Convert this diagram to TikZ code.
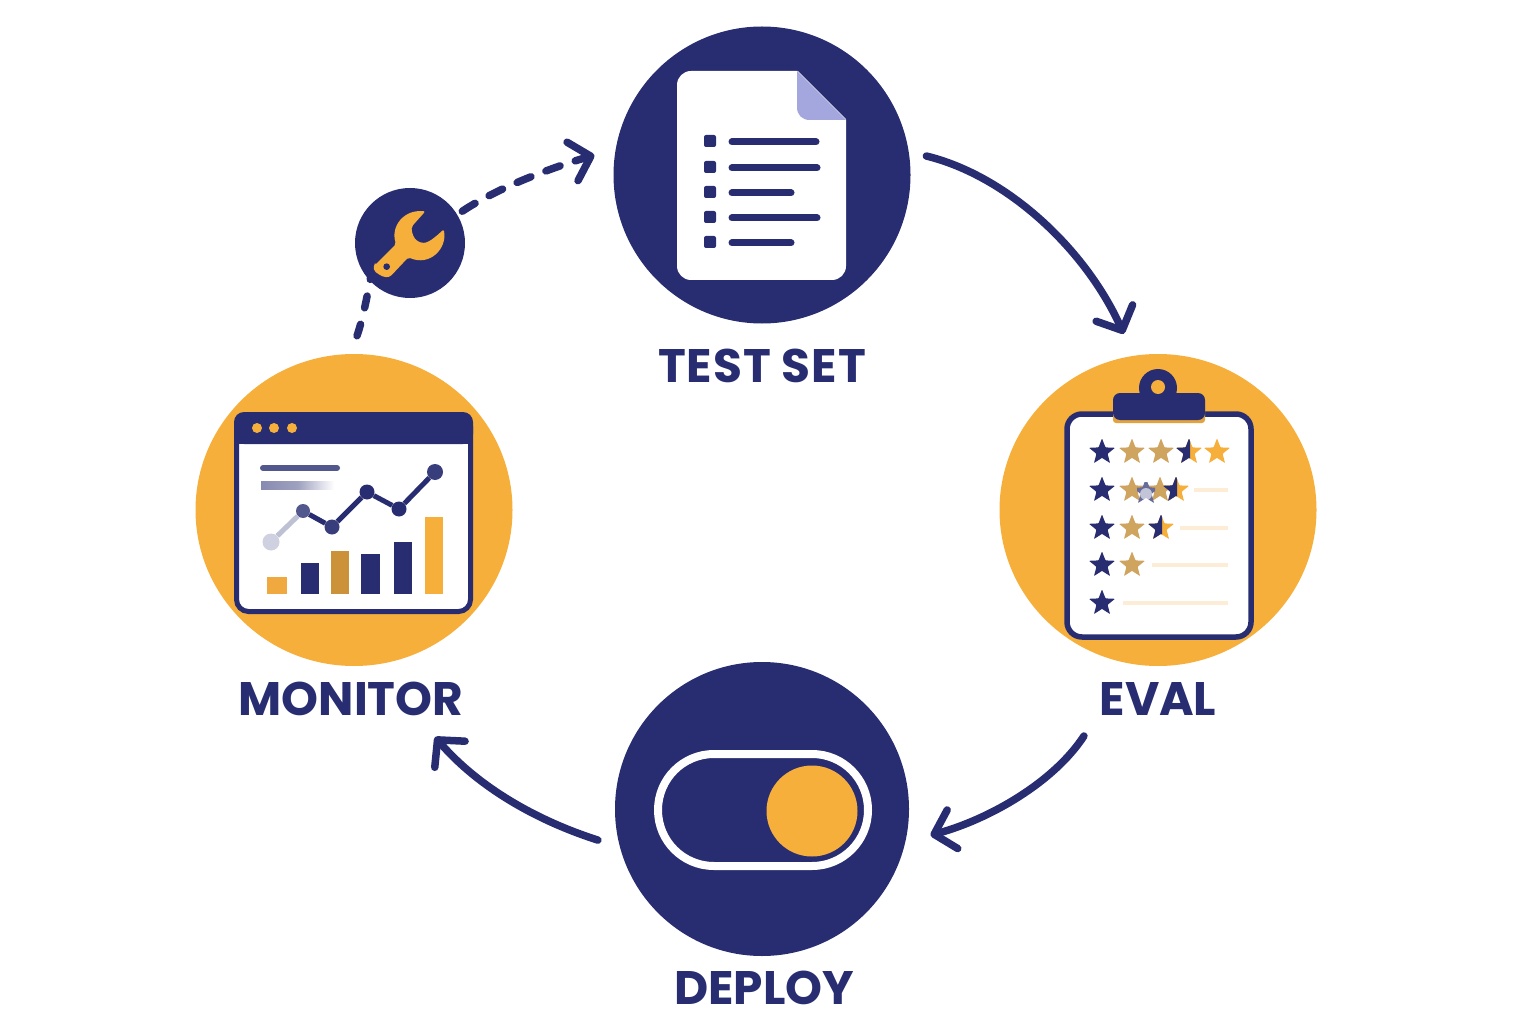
\documentclass[tikz,border=0pt]{standalone}
\usepackage{fontspec}
\setmainfont{Poppins}[BoldFont=* Bold]
\usetikzlibrary{arrows.meta,shapes.geometric}
\definecolor{navy}{HTML}{272D70}
\definecolor{amber}{HTML}{F7AF3B}
\definecolor{brownstar}{HTML}{CFA45F}
\definecolor{fold}{HTML}{A4A7DD}
\definecolor{softline}{HTML}{FDECD6}
\definecolor{barbrown}{HTML}{CC923A}
\definecolor{barlight}{HTML}{EFA93F}
\tikzset{
  big/.style={circle,inner sep=0pt,fill=navy,draw=none},
  bigo/.style={ellipse,inner sep=0pt,fill=amber,draw=none,minimum width=317pt,minimum height=312pt},
  lab/.style={text=navy,font=\fontsize{47}{47}\selectfont\bfseries,inner sep=0pt},
  flow/.style={draw=navy,line width=7.5pt,line cap=round,-{Straight Barb[length=19pt,width=40pt,round]}},
  dashflow/.style={draw=navy,line width=7.5pt,line cap=round,dash pattern=on 12pt off 17pt},
  dot/.style={circle,inner sep=0pt,fill=navy,minimum size=17pt},
  txtline/.style={line width=7pt,line cap=round,draw=navy},
  softl/.style={line width=4pt,draw=softline},
  pics/starshape/.style={code={
    \fill[#1,rounded corners=0.6pt] (0,-13.5)--(3.5,-4.6)--(13,-4.2)--(5.6,1.8)--(8,11)--(0,5.9)--(-8,11)--(-5.6,1.8)--(-13,-4.2)--(-3.5,-4.6)--cycle;}},
  pics/halfstar/.style={code={
    \pic {starshape=amber};
    \begin{scope}\clip (-14,-14) rectangle (1,14); \pic {starshape=navy}; \end{scope}}}
}
\begin{document}
\begin{tikzpicture}[x=1pt,y=-1pt]
\useasboundingbox (0,0) rectangle (1536,1024);
% main circles
\node[big,minimum size=297pt] (test) at (762,175) {};
\node[big,minimum size=294pt] (deploy) at (762,809) {};
\node[bigo] (eval) at (1158,510) {};
\node[bigo] (monitor) at (354,510) {};
\node[big,minimum size=110pt] (tool) at (410,243) {};
% labels
\node[lab] (ltest) at (762,366) {\addfontfeature{LetterSpace=2}TEST SET};
\node[lab] (lmon) at (351,699) {MONITOR};
\node[lab] (leval) at (1158,699) {EVAL};
\node[lab] (ldep) at (764,988) {DEPLOY};
% connectors
\draw[flow,shorten <=18pt,shorten >=24pt] (test.9.2) .. controls (1008,176) and (1086,250) .. (eval.99.6);
\draw[flow,shorten <=86pt,shorten >=26pt] (eval.-100) .. controls (1054,782) and (990,819) .. (deploy.-13);
\draw[flow,shorten <=23pt,shorten >=95pt] (deploy.195.4) .. controls (538,821) and (479,788) .. (monitor.-83.8);
\draw[dashflow,shorten <=20pt,shorten >=6pt] (monitor.92) .. controls (356,338) and (370,305) .. (tool.121.6);
\draw[dashflow,dash pattern=on 15pt off 16pt,-{Straight Barb[length=19pt,width=40pt,round]},shorten <=6pt,shorten >=22pt] (tool.31) .. controls (500,186) and (560,165) .. (test.170.7);
% document
\fill[white,rounded corners=14pt] (677,71) rectangle (846,280);
\fill[navy] (797,70) -- (847,120) -- (847,70) -- cycle;
\fill[fold] (797,71) -- (846,120) -- (810,120) .. controls (802,120) and (797,115) .. (797,107) -- cycle;
\foreach \yy/\xe in {141/816,167/817,192/791,217/817,242/791}{
  \fill[navy,rounded corners=2pt] (704,\yy-6) rectangle (716,\yy+6);
  \draw[txtline] (732,\yy+1) -- (\xe,\yy+1);
}
% toggle
\draw[fill=navy,draw=white,line width=8pt,rounded corners=55.9pt] (658,754) rectangle (868,866);
\fill[amber] (812,811) circle (45.5);
% wrench
\begin{scope}[shift={(340,130)},scale=1/3]
\fill[amber,rounded corners=2pt] (105,405) -- (168,342) .. controls (152,290) and (190,238) .. (256,244) -- (215,290) .. controls (215,310) and (222,325) .. (235,335) .. controls (255,342) and (270,337) .. (311,298) .. controls (322,355) and (270,410) .. (205,382) -- (158,432) .. controls (145,445) and (130,442) .. (112,430) .. controls (101,422) and (100,412) .. (105,405) -- cycle;
\fill[navy] (140,410) circle (10);
\end{scope}
% clipboard
\draw[navy,fill=white,line width=5.5pt,rounded corners=15pt] (1067,414) rectangle (1251,637);
\fill[amber!90!navy,rounded corners=3pt] (1113,405) rectangle (1205,423);
\fill[navy] (1158,388) circle (19);
\fill[navy,rounded corners=7pt] (1113,420) -- (1113,393) -- (1205,393) -- (1205,420) -- cycle;
\fill[amber] (1158,387) circle (7);
% star rows
\draw[softl] (1194,490) -- (1228,490);
\draw[softl] (1180,528) -- (1228,528);
\draw[softl] (1152,565) -- (1228,565);
\draw[softl] (1123,603) -- (1228,603);
\foreach \yy in {452,490,528,565,603} {\pic at (1102,\yy) {starshape=navy};}
\foreach \yy in {452,490,528,565} {\pic at (1132,\yy) {starshape=brownstar};}
\pic at (1161,452) {starshape=brownstar};
\pic at (1217,452) {starshape=amber};
\pic at (1189,452) {halfstar};
\pic at (1160,490) {starshape=brownstar};
\begin{scope}\clip (1137,482) rectangle (1155,503); \pic at (1146,492) {starshape=navy!70!white}; \end{scope}
\fill[white,opacity=.6] (1146,494) circle (6);
\pic at (1176,490) {halfstar};
\pic at (1161,528) {halfstar};
% dashboard window
\draw[navy,fill=white,line width=5pt,rounded corners=12pt] (236.5,414.5) rectangle (470.5,611.5);
\fill[navy,rounded corners=10pt] (234,444) -- (234,412) -- (473,412) -- (473,444) -- cycle;
\fill[navy] (234,430) rectangle (473,444);
\foreach \xx in {257,274,292} {\fill[amber] (\xx,428) circle (5);}
\draw[line width=6pt,line cap=round,draw=navy!80!white] (263,468) -- (337,468);
\shade[left color=navy!55!white,right color=white,middle color=navy!45!white] (261,481) rectangle (334,489);
% chart
\node[dot,fill=navy!22!white,minimum size=17pt] (p1) at (271,542) {};
\node[dot,fill=navy!80!white,minimum size=14pt] (p2) at (303,511) {};
\node[dot,minimum size=15pt,fill=navy!92!white] (p3) at (332,527) {};
\node[dot,minimum size=15pt] (p4) at (367,492) {};
\node[dot,minimum size=15pt] (p5) at (399,509) {};
\node[dot,minimum size=16pt,fill=navy!92!white] (p6) at (435,472) {};
\draw[line width=5pt,navy!30!white] (p1) -- (p2);
\draw[line width=5pt,navy] (p2) -- (p3) -- (p4) -- (p5) -- (p6);
\fill[barlight] (267,577) rectangle (287,594);
\fill[navy] (301,563) rectangle (319,594);
\fill[barbrown] (331,551) rectangle (349,594);
\fill[navy] (361,554) rectangle (380,594);
\fill[navy] (394,542) rectangle (412,594);
\fill[amber] (425,517) rectangle (443,594);
\end{tikzpicture}
\end{document}
